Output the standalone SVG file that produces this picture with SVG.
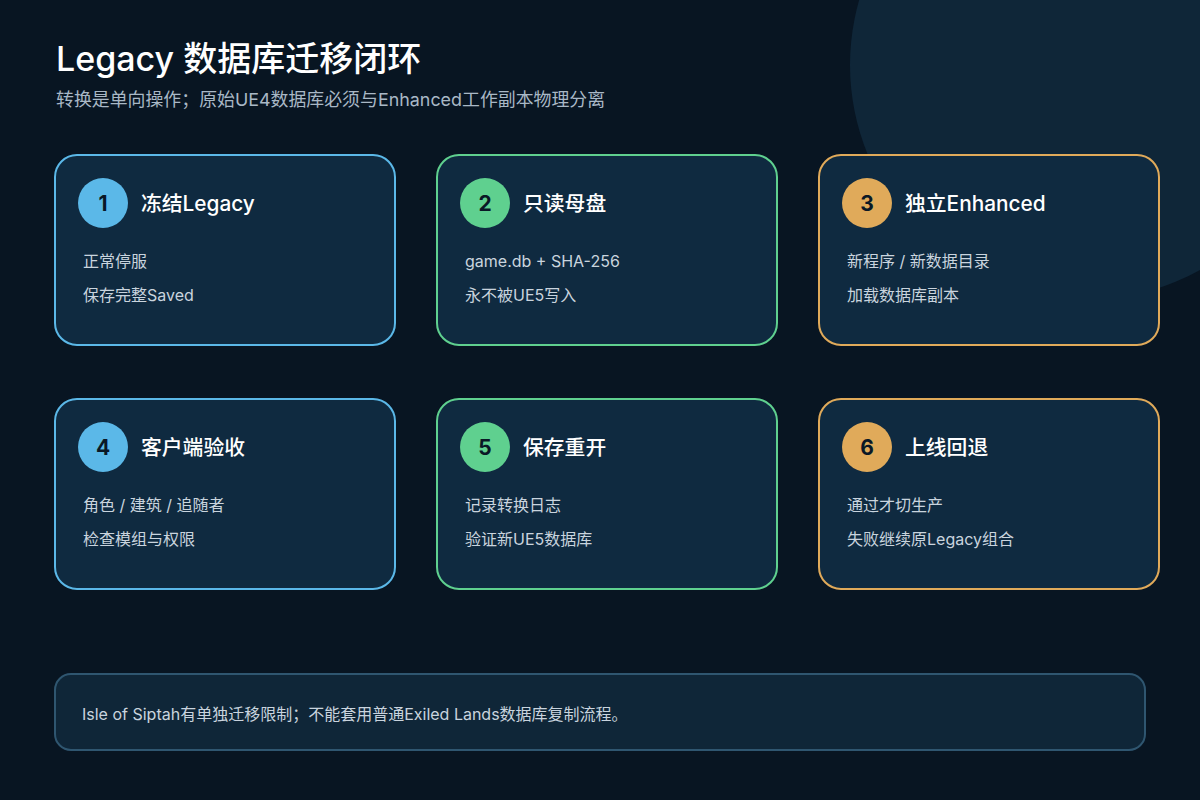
<svg xmlns="http://www.w3.org/2000/svg" width="1200" height="800" viewBox="0 0 1200 800">
<style>
text{font-family:Inter,"Noto Sans CJK SC",sans-serif}
.card{fill:#0f2a40;stroke-width:2}
.blue{stroke:#5bb8e8}.green{stroke:#5fd08f}.amber{stroke:#e0aa5a}
.cb{fill:#5bb8e8}.cg{fill:#5fd08f}.ca{fill:#e0aa5a}
.num{font-size:21px;font-weight:700;fill:#0a1826;text-anchor:middle}
.ttl{font-size:20.8px;font-weight:500;fill:#ffffff}
.body{font-size:16px;fill:#c9d4de}
</style>
<rect width="1200" height="800" fill="#081522"/>
<circle cx="1085" cy="65" r="235" fill="#0f2638"/>
<text x="56" y="71" font-size="34" font-weight="500" fill="#ffffff">Legacy 数据库迁移闭环</text>
<text x="56" y="106" font-size="17.9" fill="#a9b8c6">转换是单向操作；原始UE4数据库必须与Enhanced工作副本物理分离</text>
<g id="connectors"></g>
<g id="node1">
<rect class="card blue" x="55" y="155" width="340" height="190" rx="22"/>
<circle class="cb" cx="103" cy="203" r="25"/>
<text class="num" x="103" y="210.5">1</text>
<text class="ttl" x="141" y="211">冻结Legacy</text>
<text class="body" x="83" y="267">正常停服</text>
<text class="body" x="83" y="301">保存完整Saved</text>
</g>
<g id="node2">
<rect class="card green" x="437" y="155" width="340" height="190" rx="22"/>
<circle class="cg" cx="485" cy="203" r="25"/>
<text class="num" x="485" y="210.5">2</text>
<text class="ttl" x="523" y="211">只读母盘</text>
<text class="body" x="465" y="267">game.db + SHA-256</text>
<text class="body" x="465" y="301">永不被UE5写入</text>
</g>
<g id="node3">
<rect class="card amber" x="819" y="155" width="340" height="190" rx="22"/>
<circle class="ca" cx="867" cy="203" r="25"/>
<text class="num" x="867" y="210.5">3</text>
<text class="ttl" x="905" y="211">独立Enhanced</text>
<text class="body" x="847" y="267">新程序 / 新数据目录</text>
<text class="body" x="847" y="301">加载数据库副本</text>
</g>
<g id="node4">
<rect class="card blue" x="55" y="399" width="340" height="190" rx="22"/>
<circle class="cb" cx="103" cy="447" r="25"/>
<text class="num" x="103" y="454.5">4</text>
<text class="ttl" x="141" y="455">客户端验收</text>
<text class="body" x="83" y="511">角色 / 建筑 / 追随者</text>
<text class="body" x="83" y="545">检查模组与权限</text>
</g>
<g id="node5">
<rect class="card green" x="437" y="399" width="340" height="190" rx="22"/>
<circle class="cg" cx="485" cy="447" r="25"/>
<text class="num" x="485" y="454.5">5</text>
<text class="ttl" x="523" y="455">保存重开</text>
<text class="body" x="465" y="511">记录转换日志</text>
<text class="body" x="465" y="545">验证新UE5数据库</text>
</g>
<g id="node6">
<rect class="card amber" x="819" y="399" width="340" height="190" rx="22"/>
<circle class="ca" cx="867" cy="447" r="25"/>
<text class="num" x="867" y="454.5">6</text>
<text class="ttl" x="905" y="455">上线回退</text>
<text class="body" x="847" y="511">通过才切生产</text>
<text class="body" x="847" y="545">失败继续原Legacy组合</text>
</g>
<g id="note">
<rect x="55" y="674" width="1090" height="76" rx="16" fill="#0f2638" stroke="#2f5670" stroke-width="2"/>
<text class="body" x="82" y="720">Isle of Siptah有单独迁移限制；不能套用普通Exiled Lands数据库复制流程。</text>
</g>
</svg>
